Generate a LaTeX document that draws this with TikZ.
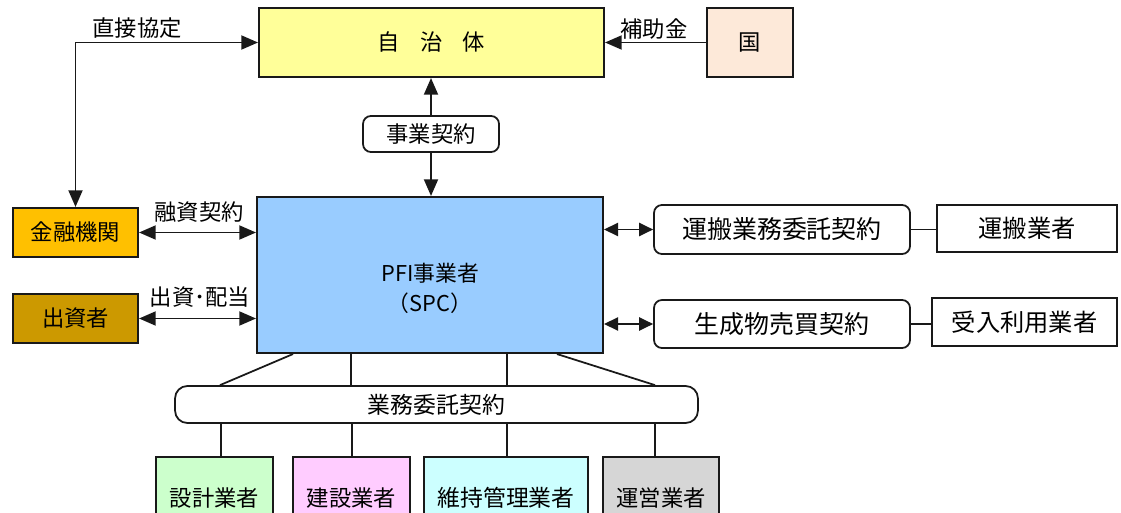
\documentclass[tikz,border=0pt]{standalone}
\usepackage{fontspec}
\setmainfont{Noto Sans CJK JP}
\usetikzlibrary{arrows.meta,calc}
\definecolor{cJichi}{HTML}{FFFF99}
\definecolor{cKuni}{HTML}{FDE9D9}
\definecolor{cPfi}{HTML}{99CCFF}
\definecolor{cKin}{HTML}{FFC000}
\definecolor{cShu}{HTML}{CC9900}
\definecolor{cSekkei}{HTML}{CCFFCC}
\definecolor{cKensetsu}{HTML}{FFCCFF}
\definecolor{cIji}{HTML}{CCFFFF}
\definecolor{cUnei}{HTML}{D6D6D6}
\tikzset{
  box/.style={draw=black!90, line width=1.2pt, inner sep=0pt, font=\fontsize{12.7}{15}\selectfont},
  rbox/.style={draw=black!90, line width=1pt, rounded corners=4.5pt, inner sep=0pt, fill=white, font=\fontsize{12.7}{15}\selectfont},
  lbl/.style={inner sep=0pt, font=\fontsize{12.7}{15}\selectfont},
  conn/.style={draw=black!90, line width=1pt},
  arr/.style={conn, -{Triangle[length=9.5pt,width=8pt]}},
  darr/.style={conn, {Triangle[length=9.5pt,width=8pt]}-{Triangle[length=9.5pt,width=8pt]}},
  sarr/.style={conn, {Triangle[length=8pt,width=7.5pt]}-{Triangle[length=8pt,width=7.5pt]}},
}
\begin{document}
\begin{tikzpicture}[x=0.02cm,y=-0.02cm]
\useasboundingbox (0,0) rectangle (1121,513);
\clip (0,0) rectangle (1121,513);
% top
\node[box, fill=cJichi, minimum width=6.9cm, minimum height=1.38cm] (jichi) at (431.5,42.5) {自\hspace{0.9em}治\hspace{0.9em}体};
\node[box, fill=cKuni, minimum width=1.72cm, minimum height=1.38cm] (kuni) at (750,42.5) {国};
\node[rbox, minimum width=2.72cm, minimum height=0.72cm] (jigyo) at (431,134) {事業契約};
\node[box, fill=cPfi, minimum width=6.92cm, minimum height=3.12cm] (pfi) at (430,275) {};
\node[lbl, align=center, font=\fontsize{12.4}{17}\selectfont] (pfiT) at ($(pfi.center)+(0,13)$) {PFI事業者\\（SPC）};
% left
\node[box, fill=cKin, minimum width=2.5cm, minimum height=0.98cm] (kin) at (75.5,232.5) {金融機関};
\node[box, fill=cShu, minimum width=2.5cm, minimum height=0.98cm] (shu) at (75.5,318.5) {出資者};
% right
\node[rbox, minimum width=5.12cm, minimum height=0.98cm, font=\fontsize{14.2}{17}\selectfont] (unpanK) at (782,229.5) {運搬業務委託契約};
\node[rbox, minimum width=5.12cm, minimum height=0.96cm, font=\fontsize{14.2}{17}\selectfont] (seiK) at (782,324) {生成物売買契約};
\node[box, fill=white, minimum width=3.6cm, minimum height=0.94cm, font=\fontsize{13.8}{17}\selectfont] (unpanG) at (1027,228.5) {運搬業者};
\node[box, fill=white, minimum width=3.7cm, minimum height=0.96cm, font=\fontsize{13.8}{17}\selectfont] (ukeG) at (1024.5,322) {受入利用業者};
% bottom
\node[rbox, rounded corners=7pt, minimum width=10.46cm, minimum height=0.74cm, font=\fontsize{13}{16}\selectfont] (gyomu) at (436.5,404.5) {業務委託契約};
\node[box, fill=cSekkei, minimum width=2.34cm, minimum height=1.64cm] (sekkei) at (214.5,498) {設計業者};
\node[box, fill=cKensetsu, minimum width=2.34cm, minimum height=1.64cm] (kensetsu) at (351.5,498) {建設業者};
\node[box, fill=cIji, minimum width=3.28cm, minimum height=1.64cm, font=\fontsize{13}{16}\selectfont] (iji) at (506,498) {維持管理業者};
\node[box, fill=cUnei, minimum width=2.32cm, minimum height=1.64cm] (unei) at (661,498) {運営業者};
% labels
\node[lbl] (lChoku) at (137,28) {直接協定};
\node[lbl] (lHojo) at (654,29) {補助金};
\node[lbl] (lYushi) at (199,212) {融資契約};
\node[lbl] (lShusshi) at (200,297) {出資･配当};
% connectors
\draw[darr] (kin.north) |- (jichi.west);
\draw[arr] (kuni.west) -- (jichi.east);
\draw[arr] (jigyo.north) -- (jichi.south -| jigyo.north);
\draw[arr] (jigyo.south) -- (pfi.north -| jigyo.south);
\draw[darr] (kin.east) -- (pfi.west |- kin.east);
\draw[darr] (shu.east) -- (pfi.west |- shu.east);
\draw[sarr] (pfi.east |- unpanK.west) -- (unpanK.west);
\draw[sarr] (pfi.east |- seiK.west) -- (seiK.west);
\draw[conn] (unpanK.east) -- (unpanG.west |- unpanK.east);
\draw[conn] (seiK.east) -- (ukeG.west |- seiK.east);
% PFI to gyomu
\coordinate (a1) at (293,0);
\coordinate (a2) at (351,0);
\coordinate (a3) at (507,0);
\coordinate (a4) at (557,0);
\coordinate (b1) at (220,0);
\coordinate (b4) at (655,0);
\draw[conn] (pfi.south -| a1) -- (gyomu.north -| b1);
\draw[conn] (pfi.south -| a2) -- (gyomu.north -| a2);
\draw[conn] (pfi.south -| a3) -- (gyomu.north -| a3);
\draw[conn] (pfi.south -| a4) -- (gyomu.north -| b4);
% gyomu to bottom boxes
\coordinate (d1) at (221,0);
\coordinate (d2) at (352,0);
\coordinate (d3) at (507,0);
\coordinate (d4) at (655,0);
\draw[conn] (gyomu.south -| d1) -- (sekkei.north -| d1);
\draw[conn] (gyomu.south -| d2) -- (kensetsu.north -| d2);
\draw[conn] (gyomu.south -| d3) -- (iji.north -| d3);
\draw[conn] (gyomu.south -| d4) -- (unei.north -| d4);
\end{tikzpicture}
\end{document}
